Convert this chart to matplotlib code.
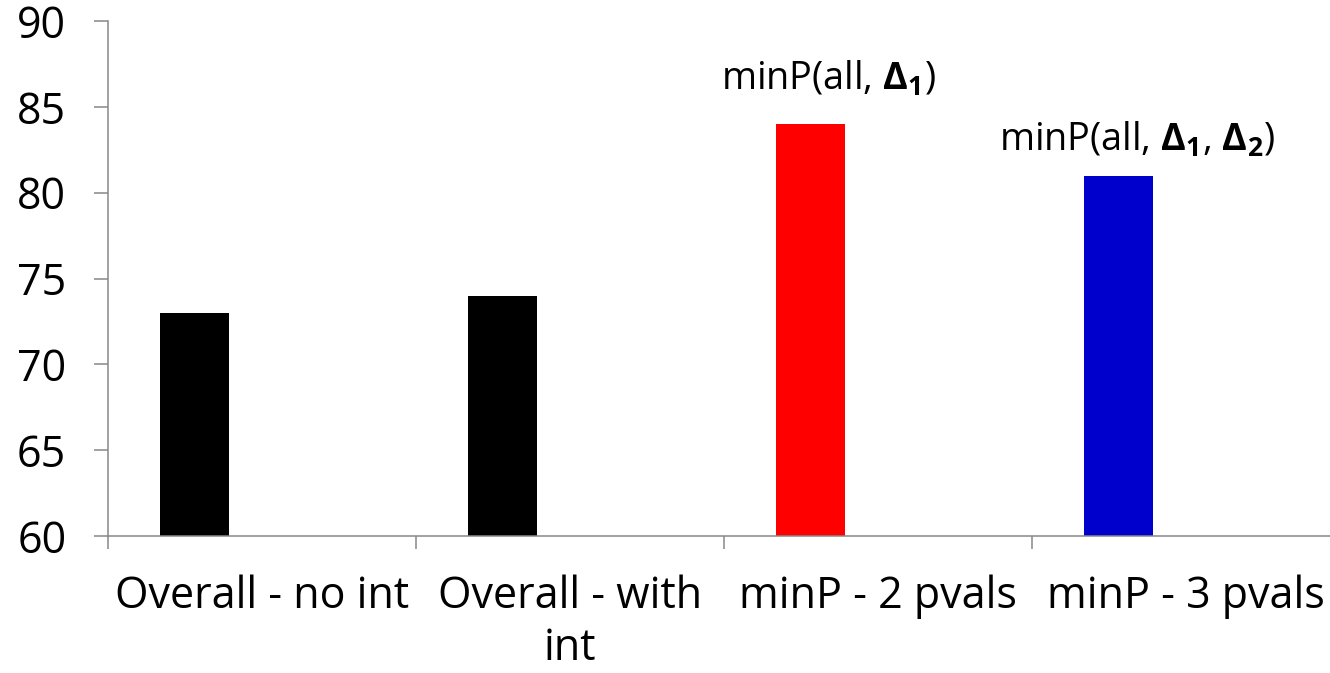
import matplotlib

matplotlib.use("Agg")
import matplotlib.pyplot as plt

# chart values
CATEGORIES = ["Overall - no int", "Overall - with\nint", "minP - 2 pvals", "minP - 3 pvals"]
VALUES = [73, 74, 84, 81]
BAR_COLORS = ["#000000", "#000000", "#FF0000", "#0000CC"]
NOTES = {2: r"minP(all, $\mathbf{Δ_1}$)", 3: r"minP(all, $\mathbf{Δ_1}$, $\mathbf{Δ_2}$)"}
NOTE_Y = {2: 86.0, 3: 82.45}
Y_TICKS = [60, 65, 70, 75, 80, 85, 90]

FONT = "Open Sans"
FS = 31
AXIS_GREY = "#888888"
BAR_OFFSET = -0.22
BAR_WIDTH = 0.224
NOTE_OFFSET = -0.16

plt.rcParams["font.family"] = [FONT, "DejaVu Sans"]
plt.rcParams["mathtext.fontset"] = "custom"
plt.rcParams["mathtext.rm"] = FONT
plt.rcParams["mathtext.bf"] = f"{FONT}:bold"

fig = plt.figure(figsize=(13.3, 6.73), dpi=100)
ax = fig.add_axes([108 / 1330, 1 - 536 / 673, 1232 / 1330, 515 / 673])

xs = list(range(len(CATEGORIES)))
ax.bar([x + BAR_OFFSET for x in xs], VALUES, width=BAR_WIDTH, color=BAR_COLORS, zorder=2)

for idx, label in NOTES.items():
    ax.text(idx + NOTE_OFFSET, NOTE_Y[idx], label, ha="center", va="baseline", fontsize=FS * 0.88)

ax.set_xlim(-0.5, len(CATEGORIES) - 0.5)
ax.set_ylim(Y_TICKS[0], Y_TICKS[-1])
ax.set_yticks(Y_TICKS)
ax.set_yticklabels([str(v) for v in Y_TICKS], fontsize=FS)
ax.set_xticks(xs)
ax.set_xticklabels(CATEGORIES, fontsize=FS, linespacing=1.2)
ax.set_xticks([x - 0.5 for x in xs] + [len(xs) - 0.5], minor=True)

ax.tick_params(axis="y", direction="out", length=10, width=1.1, color=AXIS_GREY, pad=20)
ax.tick_params(axis="x", which="major", length=0, pad=28)
ax.tick_params(axis="x", which="minor", direction="out", length=9, width=1.1, color=AXIS_GREY)

for side in ["top", "right"]:
    ax.spines[side].set_visible(False)
for side in ["left", "bottom"]:
    ax.spines[side].set_color(AXIS_GREY)
    ax.spines[side].set_linewidth(1.1)
ax.spines["bottom"].set_clip_on(False)

fig.savefig("out.png", dpi=100)
